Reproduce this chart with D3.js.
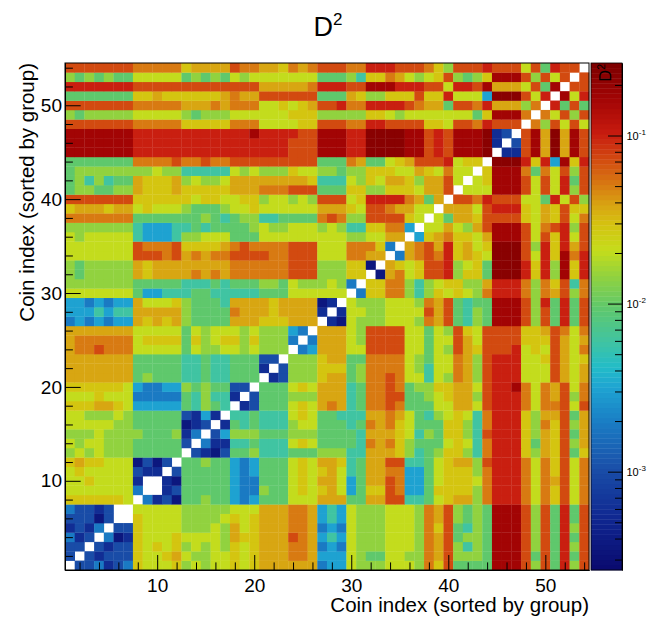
<!DOCTYPE html>
<html>
<head>
<meta charset="utf-8">
<title>D2</title>
<script src="https://cdn.jsdelivr.net/npm/d3@7"></script>
<style>
  body { margin: 0; background: #fff; }
  svg text { font-family: "Liberation Sans", Arial, Helvetica, sans-serif; fill: #000; }
</style>
</head>
<body>
<svg id="chart" width="654" height="634"></svg>
<script>
// ---- data ----
const nCoins = 54;
const xTicks = [10, 20, 30, 40, 50];
const yTicks = [10, 20, 30, 40, 50];
const colorTicks = [1e-3, 1e-2, 1e-1];
const colorTickLabels = ["-3", "-2", "-1"];
const zRange = [2.6e-4, 0.27];

// one character per cell
const levelCodes = "0123456789abcdef";
const levelValues = [3.6e-4, 5.9e-4, 1.0e-3, 1.9e-3, 3.1e-3, 5.9e-3, 9.5e-3, 1.45e-2,
                     2.05e-2, 2.9e-2, 3.8e-2, 5.1e-2, 7.2e-2, 0.10, 0.165, 0.23];

// upper triangle: row r holds coins x = r..54 ("w" = empty / zero)
const upperRows = [
  "w22312398889787889 89aaaaaa3448777888 7b9c6666eeec7c6d7c",
  "w212229889a877889 89aaabba4448766887 7bac7776eeec6c6d6c",
  "w212298989787879 89aaabba3438777888 7bac7576eeec7c6d7c",
  "w3019888988887a 99aaacba4548777888 7bac6776eeec7c6d6c",
  "w229888877787a 89aaabba3438777888 7b9c6576eeec7c6d7c",
  "ww98888777789 89aaabba4548777888 7bac7676eeec7c6d6c",
  "w88888777778 88aaabba4548777888 7bac7676eeec7c6d6c",
  "w3120667664 34666888aaa66aacc5 5689aa7bdddb8b9c8b",
  "ww12666664 337668989a84699cb4 4699997bdddb8b9c8b",
  "w10666664 33666898aa846aacb4 4689998bdddb8bac8b",
  "w2666664 346668989a856aabb4 4689997bdddb8b9c8b",
  "w667664 34666898aa956aacc5 5689aa7cdddb8b9c8b",
  "w21026 6755566677755aaa97 5679975bddd97a9c69",
  "w3115 5655589866665bab97 6668985bddd96a9c7a",
  "w247 7766677766665aaa98 5769975cddd97a9c6a",
  "w16 5655578866656bab98 6669975bddd97b9c7a",
  "w5 5655589866555aaba8 6578985bddd97aac6a",
  "w 12666898aba56bbcb6 6688aa8cdddb8bbc8c",
  "w2666777aaa56bbcc6 6789aa7cdddb8bac7b",
  "w666898aaa56bbcb6 7799aa8cddeb8bac8b",
  "w127779aa67bbcb8 8587ba7cddd888ca8a",
  "w277799967bbbb8 7588ba7cddd888ca8a",
  "w7779aa66bbbb8 7688ba7cddd889ca89",
  "w34aaa88cccc8 8687ca9cccd898ca8b",
  "w3aaa87cccc8 8688ca8cccc999ca8a",
  "waaa87cccc8 8687c98cccc99acb8b",
  "w108777888 7bac6576eeec7c6d6c",
  "w18877888 8cac6576eeec7c6d6c",
  "w8777888 7bac6566eeec7d6d6c",
  "w399bb7 5798987bdddb7bac7b",
  "w99bb7 5789977adddb7b9c5b",
  "w0ab8 9ccd7996fffd9d7e9d",
  "wa98 9ccd7896fffd9d7e9d",
  "w3a bcbd9a98fffc8d9ebd",
  "wa bcad9a89fffc7d9dac",
  "w 49ab998aeeec8c9d8c",
  "w88a87aceeec8bcd7c",
  "w86aa9cccc98a9c8b",
  "waaa8cddd98a9c99",
  "wccbdccc886d8c7",
  "w888eeec8c8d7c",
  "w89eeec8c8d6c",
  "w9eeeb6b8c7c",
  "wfffd9d4e9d",
  "w11ceafaec",
  "w2ceafaec",
  "wceafaec",
  "wb7c8c8",
  "wb8c7c",
  "wd6c6",
  "we8d",
  "wcc",
  "wc",
  "w"
];

// palette as seen on the colour bar (fraction from bottom -> colour)
const paletteStops = [0, 0.10, 0.20, 0.29, 0.36, 0.40, 0.45, 0.52, 0.58, 0.63, 0.68, 0.72, 0.76, 0.81, 0.86, 0.93, 1];
const paletteColors = ["#0a0a6e", "#0f2690", "#1a4ea8", "#1a7cc4", "#1ea4d2", "#22bcc8", "#40c4a2", "#60c86a",
                       "#92d23e", "#c4dc1c", "#d4c410", "#d8a412", "#d87a12", "#d24a10", "#c81c10", "#a20404", "#7c0000"];

// ---- build cells ----
const rows = upperRows.map(s => s.replace(/ /g, ""));
function code(cx, cy) {
  const r = Math.min(cx, cy), c = Math.max(cx, cy);
  return rows[r - 1][c - r];
}
const cells = [];
for (let j = 1; j <= nCoins; j++) {
  for (let i = 1; i <= nCoins; i++) {
    const k = levelCodes.indexOf(code(i, j));
    if (k >= 0) cells.push({ x: i, y: j, v: levelValues[k] });
  }
}

// ---- layout ----
const svg = d3.select("#chart");
const plotL = 65, plotR = 589, plotT = 63, plotB = 570;
const barX0 = 591, barX1 = 622;

const x = d3.scaleLinear().domain([0.5, nCoins + 0.5]).range([plotL, plotR]);
const y = d3.scaleLinear().domain([0.5, nCoins + 0.5]).range([plotB, plotT]);
const tScale = d3.scaleLog().domain(zRange).range([0, 1]).clamp(true);
const palette = d3.scaleLinear().domain(paletteStops).range(paletteColors).interpolate(d3.interpolateRgb);
const cScale = d3.scaleLog().domain(zRange).range([plotB, plotT]);

// heatmap
svg.append("g").selectAll("rect")
  .data(cells)
  .join("rect")
  .attr("x", d => x(d.x - 0.5))
  .attr("y", d => y(d.y + 0.5))
  .attr("width", d => x(d.x + 0.5) - x(d.x - 0.5) + 0.3)
  .attr("height", d => y(d.y - 0.5) - y(d.y + 0.5) + 0.3)
  .attr("fill", d => palette(tScale(d.v)));

// frame
svg.append("rect")
  .attr("x", plotL).attr("y", plotT)
  .attr("width", plotR - plotL).attr("height", plotB - plotT)
  .attr("fill", "none").attr("stroke", "#000").attr("stroke-width", 1);

// axes
const minorTicks = d3.range(2, nCoins + 1, 2).filter(v => v % 10 !== 0);

const xg = svg.append("g").attr("transform", `translate(0,${plotB})`);
xg.call(d3.axisBottom(x).tickValues(xTicks).tickSize(-15).tickSizeOuter(0).tickPadding(8.5));
xg.append("g").call(d3.axisBottom(x).tickValues(minorTicks).tickSize(-7.6).tickSizeOuter(0).tickFormat(""));

const yg = svg.append("g").attr("transform", `translate(${plotL},0)`);
yg.call(d3.axisLeft(y).tickValues(yTicks).tickSize(-15.7).tickSizeOuter(0).tickPadding(3));
yg.append("g").call(d3.axisLeft(y).tickValues(minorTicks).tickSize(-7.9).tickSizeOuter(0).tickFormat(""));

svg.selectAll(".tick line").attr("stroke", "#000");
svg.selectAll(".domain").attr("stroke", "#000");
xg.selectAll("text").attr("font-size", 19).attr("font-family", null);
yg.selectAll("text").attr("font-size", 19).attr("font-family", null);

// axis titles
svg.append("text")
  .attr("x", plotR).attr("y", 612)
  .attr("text-anchor", "end").attr("font-size", 20.5)
  .text("Coin index (sorted by group)");
svg.append("text")
  .attr("transform", `translate(34,${plotT}) rotate(-90)`)
  .attr("text-anchor", "end").attr("font-size", 20.5)
  .text("Coin index (sorted by group)");

// title
const title = svg.append("text")
  .attr("x", 328).attr("y", 35.7)
  .attr("text-anchor", "middle").attr("font-size", 27);
title.append("tspan").text("D");
title.append("tspan").attr("dy", -11).attr("font-size", 17).text("2");

// colour bar
const nBands = 100;
const bandH = (plotB - plotT) / nBands;
svg.append("g").selectAll("rect")
  .data(d3.range(nBands))
  .join("rect")
  .attr("x", barX0)
  .attr("width", barX1 - barX0)
  .attr("y", i => plotB - (i + 1) * bandH)
  .attr("height", bandH + 0.4)
  .attr("fill", i => palette((i + 0.5) / nBands));

svg.append("rect")
  .attr("x", barX0).attr("y", plotT)
  .attr("width", barX1 - barX0).attr("height", plotB - plotT)
  .attr("fill", "none").attr("stroke", "#000").attr("stroke-width", 0.8);

const colorMinor = [];
[-4, -3, -2, -1].forEach(e => {
  for (let m = 2; m <= 9; m++) {
    const v = m * Math.pow(10, e);
    if (v > zRange[0] && v < zRange[1]) colorMinor.push(v);
  }
});
const cg = svg.append("g").attr("transform", `translate(${barX1},0)`);
cg.call(d3.axisRight(cScale).tickValues(colorTicks).tickSize(-14).tickSizeOuter(0).tickFormat(""));
cg.append("g").call(d3.axisRight(cScale).tickValues(colorMinor).tickSize(-7).tickSizeOuter(0).tickFormat(""));
cg.selectAll(".tick line").attr("stroke", "#000");
cg.selectAll(".domain").attr("stroke", "#000");

colorTicks.forEach((v, i) => {
  const t = svg.append("text")
    .attr("x", barX1 + 4.5).attr("y", cScale(v) + 4)
    .attr("font-size", 11);
  t.append("tspan").text("10");
  t.append("tspan").attr("dy", -4.5).attr("font-size", 8).text(colorTickLabels[i]);
});

// colour bar title
const ct = svg.append("text")
  .attr("transform", `translate(611,${plotT + 1}) rotate(-90)`)
  .attr("text-anchor", "end").attr("font-size", 16);
ct.append("tspan").text("D");
ct.append("tspan").attr("dy", -6.5).attr("font-size", 10.5).text("2");
</script>
</body>
</html>
